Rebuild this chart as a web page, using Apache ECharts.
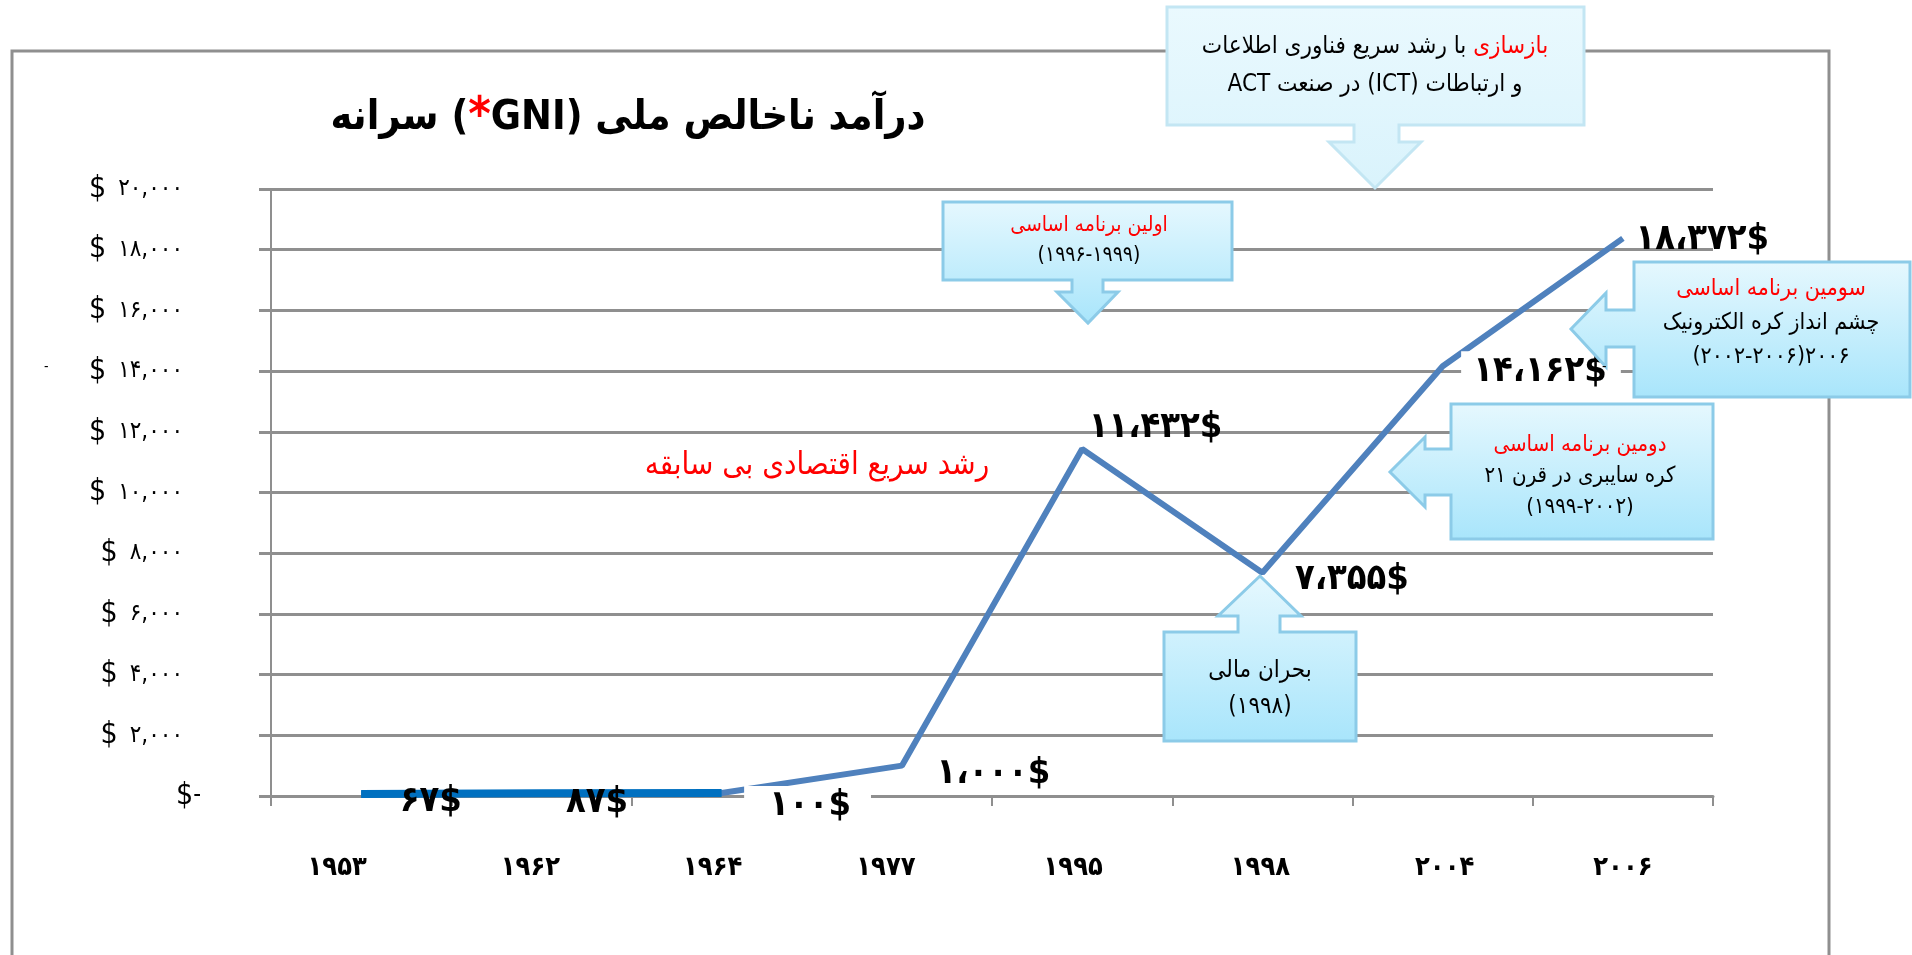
<!DOCTYPE html>
<html>
<head>
<meta charset="utf-8">
<title>GNI</title>
<script src="https://cdn.jsdelivr.net/npm/echarts@6/dist/echarts.min.js"></script>
<style>
  html, body { margin: 0; padding: 0; background: #fff; }
  #grafica { width: 1912px; height: 955px; }
</style>
</head>
<body>
<div id="grafica"></div>
<script>
// datos
var years = ['۱۹۵۳', '۱۹۶۲', '۱۹۶۴', '۱۹۷۷', '۱۹۹۵', '۱۹۹۸', '۲۰۰۴', '۲۰۰۶'];
var gni = [67, 87, 100, 1000, 11432, 7355, 14162, 18372];
var firstPeriod = [67, 87, 100, '-', '-', '-', '-', '-'];
var yTicks = [0, 2000, 4000, 6000, 8000, 10000, 12000, 14000, 16000, 18000, 20000];

// estilo de etiquetas (no son datos)
var labelOffsets = [[38, 8], [24, 9], [22, 13], [34, 8], [6, -21], [32, 7], [18, 5], [12, 1]];
var whiteLabel = {2: [2, 20, 2, 25], 6: [2, 14, 2, 12]};
var yearShift = [-24, -11, -9, -16, -9, -2, 2, 0];

var FONT = '"DejaVu Sans Condensed", "DejaVu Sans", sans-serif';
var GRAY = '#8F8F8F';
var faDigits = '۰۱۲۳۴۵۶۷۸۹';

function toFa(n, sep) {
    var s = String(n).replace(/\B(?=(\d{3})+(?!\d))/g, sep);
    return s.replace(/\d/g, function (d) { return faDigits[d]; });
}

// caja con flecha (callout)
function callout(x, y, w, h, arrow, light) {
    var p = [];
    var a = arrow;
    if (a.dir === 'down') {
        p = [[x, y], [x + w, y], [x + w, y + h], [a.s2, y + h], [a.s2, a.hb], [a.h2, a.hb],
             [a.tx, a.ty], [a.h1, a.hb], [a.s1, a.hb], [a.s1, y + h], [x, y + h]];
    } else if (a.dir === 'up') {
        p = [[x, y], [a.s1, y], [a.s1, a.hb], [a.h1, a.hb], [a.tx, a.ty], [a.h2, a.hb],
             [a.s2, a.hb], [a.s2, y], [x + w, y], [x + w, y + h], [x, y + h]];
    } else {
        p = [[x, y], [x + w, y], [x + w, y + h], [x, y + h], [x, a.s2], [a.hb, a.s2],
             [a.hb, a.h2], [a.tx, a.ty], [a.hb, a.h1], [a.hb, a.s1], [x, a.s1]];
    }
    return {
        type: 'polygon',
        z: 10,
        shape: {points: p},
        style: {
            fill: {
                type: 'linear', x: 0, y: 0, x2: 0, y2: 1,
                colorStops: light ?
                    [{offset: 0, color: '#EAF9FE'}, {offset: 1, color: '#D9F3FC'}] :
                    [{offset: 0, color: '#E6F8FE'}, {offset: 1, color: '#A8E5FB'}]
            },
            stroke: light ? '#C3E6F3' : '#8CCBE8',
            lineWidth: 3
        }
    };
}

function boxText(x, y, text, size, lh) {
    return {
        type: 'text',
        z: 11,
        x: x,
        y: y,
        style: {
            text: text,
            align: 'center',
            verticalAlign: 'middle',
            font: size + 'px ' + FONT,
            fill: '#000',
            rich: {
                k: {fontSize: size, fontFamily: FONT, fill: '#000', lineHeight: lh},
                r: {fontSize: size, fontFamily: FONT, fill: '#FF0000', lineHeight: lh}
            }
        }
    };
}

var chart = echarts.init(document.getElementById('grafica'));

var labelData = gni.map(function (v, i) {
    var lab = {
        show: true,
        position: 'right',
        distance: 0,
        offset: labelOffsets[i]
    };
    if (whiteLabel[i]) {
        lab.backgroundColor = '#fff';
        lab.padding = whiteLabel[i];
    }
    return {value: v, label: lab};
});

var yearData = years.map(function (y, i) {
    var s = yearShift[i];
    return {
        value: y,
        textStyle: {padding: s < 0 ? [0, -2 * s, 0, 0] : [0, 0, 0, 2 * s]}
    };
});

var option = {
    animation: false,
    backgroundColor: '#fff',
    grid: {left: 271, right: 199, top: 189, bottom: 159},
    xAxis: {
        type: 'category',
        data: yearData,
        boundaryGap: true,
        axisLine: {lineStyle: {color: GRAY, width: 3}},
        axisTick: {show: true, length: 10, interval: 0, lineStyle: {color: GRAY, width: 2}},
        axisLabel: {
            margin: 58,
            interval: 0,
            fontSize: 27,
            fontWeight: 'bold',
            fontFamily: FONT,
            color: '#000'
        }
    },
    yAxis: {
        type: 'value',
        min: yTicks[0],
        max: yTicks[yTicks.length - 1],
        interval: yTicks[1] - yTicks[0],
        axisLine: {show: true, lineStyle: {color: GRAY, width: 2}},
        axisTick: {show: true, length: 12, lineStyle: {color: GRAY, width: 3}},
        splitLine: {lineStyle: {color: GRAY, width: 3}},
        axisLabel: {
            margin: 70,
            fontSize: 24,
            fontFamily: FONT,
            color: '#000',
            formatter: function (v) {
                if (v === 0) return '{d|$}{z|-}';
                return '{d|$}{n|' + toFa(v, ',') + '}';
            },
            rich: {
                d: {fontSize: 30, fontFamily: FONT, color: '#000'},
                n: {fontSize: 24, fontFamily: FONT, color: '#000', padding: [0, 18, 0, 12]},
                z: {fontSize: 24, fontFamily: FONT, color: '#000'}
            }
        }
    },
    series: [
        {
            name: 'GNI',
            type: 'line',
            data: gni,
            symbol: 'none',
            z: 2,
            lineStyle: {color: '#4F81BD', width: 6},
            silent: true
        },
        {
            name: 'GNI-1',
            type: 'line',
            data: firstPeriod,
            symbol: 'none',
            z: 3,
            lineStyle: {color: '#0070C0', width: 8, cap: 'butt'},
            silent: true
        },
        {
            name: 'etiquetas',
            type: 'line',
            data: labelData,
            z: 4,
            symbol: 'circle',
            symbolSize: 1,
            itemStyle: {color: 'rgba(0,0,0,0)'},
            lineStyle: {width: 0, opacity: 0},
            silent: true,
            label: {
                show: true,
                color: '#000',
                fontSize: 36,
                fontWeight: 'bold',
                fontFamily: FONT,
                formatter: function (p) { return toFa(p.value, '،') + '$'; }
            }
        }
    ],
    graphic: [
        // marco
        {
            type: 'rect', z: 0,
            shape: {x: 12, y: 51, width: 1817, height: 1000},
            style: {fill: 'none', stroke: GRAY, lineWidth: 3}
        },
        // titulo
        {
            type: 'text', z: 11, x: 628, y: 118,
            style: {
                text: '{t|سرانه (}{s|*}{t|GNI) درآمد ناخالص ملی}',
                align: 'center', verticalAlign: 'middle',
                rich: {
                    t: {fontSize: 41, fontWeight: 'bold', fontFamily: FONT, fill: '#000'},
                    s: {fontSize: 48, fontWeight: 'bold', fontFamily: FONT, fill: '#FF0000'}
                }
            }
        },
        {
            type: 'text', z: 11, x: 817, y: 466,
            style: {
                text: 'رشد سریع اقتصادی بی سابقه',
                align: 'center', verticalAlign: 'middle',
                font: '31px ' + FONT, fill: '#FF0000'
            }
        },
        {type: 'text', z: 11, x: 44, y: 360, style: {text: '-', font: '14px ' + FONT, fill: '#000'}},
        {type: 'text', z: 11, x: 1602, y: 360, style: {text: '-', font: '14px ' + FONT, fill: '#000'}},

        callout(1167, 7, 417, 118, {dir: 'down', s1: 1354, s2: 1399, hb: 142, h1: 1329, h2: 1421, tx: 1375, ty: 188}, true),
        boxText(1375, 66, '{k|با رشد سریع فناوری اطلاعات }{r|بازسازی}\n{k|ACT }{k|در صنعت}{k| (ICT) }{k|و ارتباطات}', 24, 38),

        callout(943, 202, 289, 78, {dir: 'down', s1: 1072, s2: 1103, hb: 292, h1: 1057, h2: 1118, tx: 1088, ty: 323}),
        boxText(1089, 241, '{r|اولین برنامه اساسی}\n{k|(۱۹۹۶-۱۹۹۹)}', 21, 30),

        callout(1634, 262, 276, 135, {dir: 'left', s1: 310, s2: 347, hb: 1606, h1: 293, h2: 367, tx: 1571, ty: 329}),
        boxText(1771, 323, '{r|سومین برنامه اساسی}\n{k|چشم انداز کره الکترونیک}\n{k|(۲۰۰۲-۲۰۰۶)۲۰۰۶}', 23, 34),

        callout(1451, 404, 262, 135, {dir: 'left', s1: 449, s2: 495, hb: 1425, h1: 437, h2: 507, tx: 1390, ty: 472}),
        boxText(1580, 476, '{r|دومین برنامه اساسی}\n{k|کره سایبری در قرن ۲۱}\n{k|(۱۹۹۹-۲۰۰۲)}', 22, 31),

        callout(1164, 632, 192, 109, {dir: 'up', s1: 1238, s2: 1280, hb: 616, h1: 1218, h2: 1301, tx: 1260, ty: 576}),
        boxText(1260, 689, '{k|بحران مالی}\n{k|(۱۹۹۸)}', 24, 36)
    ]
};

chart.setOption(option);
window.onresize = function () {
    chart.resize();
};
</script>
</body>
</html>
